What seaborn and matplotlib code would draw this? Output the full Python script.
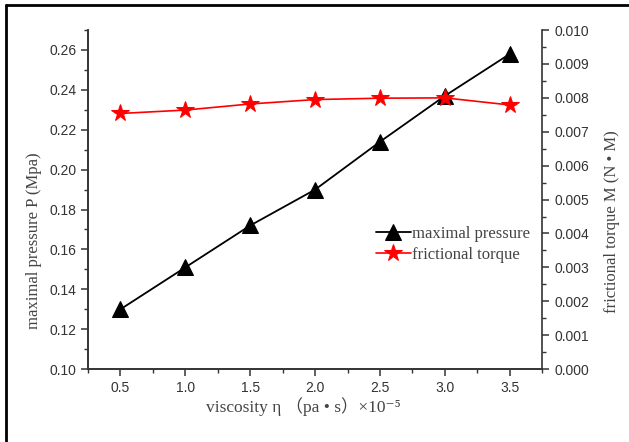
import numpy as np
import pandas as pd
import matplotlib
matplotlib.use("Agg")
import matplotlib.pyplot as plt
from matplotlib.lines import Line2D
from matplotlib.ticker import MultipleLocator
import seaborn as sns

viscosity = [0.5, 1.0, 1.5, 2.0, 2.5, 3.0, 3.5]
max_pressure = [0.130, 0.151, 0.172, 0.190, 0.214, 0.237, 0.258]
friction_torque = [0.00754, 0.00764, 0.00782, 0.00795, 0.00799, 0.00800, 0.00779]

df = pd.DataFrame({
    'viscosity': viscosity,
    'pressure': max_pressure,
    'torque': friction_torque
})

sns.set_style("ticks")
plt.rcParams['font.family'] = ['Liberation Sans', 'DejaVu Sans']

serif = ['Liberation Serif', 'DejaVu Serif', 'Noto Sans CJK SC']

fig = plt.figure(figsize=(6.29, 4.42), dpi=100)
ax = fig.add_axes([0.140, 0.165, 0.722, 0.767])
ax2 = ax.twinx()

sns.lineplot(data=df, x='viscosity', y='pressure', ax=ax, color='black',
             marker='^', markersize=11, markeredgecolor='black',
             linewidth=1.3, label='maximal pressure', legend=False)
sns.lineplot(data=df, x='viscosity', y='torque', ax=ax2, color='#ff0000',
             marker='*', markersize=13, markeredgecolor='#ff0000',
             linewidth=1.2, label='frictional torque', legend=False)

ax.set_xlim(0.25, 3.75)
ax.set_ylim(0.10, 0.27)
ax2.set_ylim(0.0, 0.010)

ax.set_xticks(viscosity)
ax.xaxis.set_minor_locator(MultipleLocator(0.25))
ax.yaxis.set_major_locator(MultipleLocator(0.02))
ax.yaxis.set_minor_locator(MultipleLocator(0.01))
ax2.yaxis.set_major_locator(MultipleLocator(0.001))
ax2.yaxis.set_minor_locator(MultipleLocator(0.0005))
ax.yaxis.set_major_formatter(plt.FormatStrFormatter('%.2f'))
ax2.yaxis.set_major_formatter(plt.FormatStrFormatter('%.3f'))

for a in (ax, ax2):
    a.spines['top'].set_visible(False)
    for s in a.spines.values():
        s.set_linewidth(1.2)
        s.set_color('#333333')
    a.tick_params(which='major', direction='out', length=5, width=1.1,
                  labelsize=10, colors='#333333')
    a.tick_params(which='minor', direction='out', length=3, width=1.0,
                  colors='#333333')
ax.spines['right'].set_visible(False)

ax.set_xlabel('viscosity η （pa • s）×10⁻⁵', family=serif,
              fontsize=12.5, color='#444444')
ax.set_ylabel('maximal pressure P (Mpa)', family=serif,
              fontsize=12, color='#444444')
ax2.set_ylabel('frictional torque M (N • M)', family=serif,
               fontsize=12, color='#444444')
ax.xaxis.set_label_coords(0.474, -0.083)
ax.yaxis.set_label_coords(-0.101, 0.378)
ax2.yaxis.set_label_coords(1.137, 0.435)

h1, l1 = ax.get_legend_handles_labels()
h2, l2 = ax2.get_legend_handles_labels()
ax.legend(h1 + h2, l1 + l2, loc='center left',
          bbox_to_anchor=(0.60, 0.368), frameon=False,
          prop={'family': serif, 'size': 12}, handlelength=2.1,
          handletextpad=0.1, labelspacing=0.3, labelcolor='#444444')

fig.add_artist(Line2D([0.010, 1.0], [0.989, 0.989], color='black',
                      linewidth=2, transform=fig.transFigure))
fig.add_artist(Line2D([0.010, 0.010], [0.0, 0.989], color='black',
                      linewidth=2, transform=fig.transFigure))

fig.savefig('out.png', dpi=100)
